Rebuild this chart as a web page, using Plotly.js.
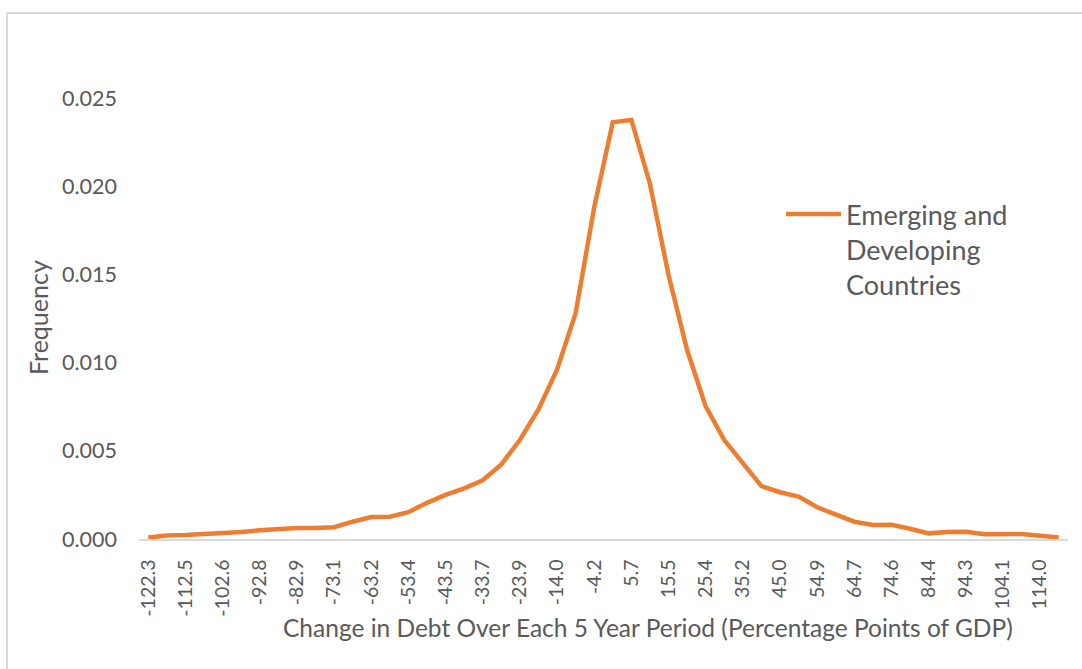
<!DOCTYPE html>
<html>
<head>
<meta charset="utf-8">
<script src="https://cdn.plot.ly/plotly-3.0.1.min.js"></script>
<style>
html,body{margin:0;padding:0;background:#fff;}
#chart{width:1082px;height:669px;}
</style>
</head>
<body>
<div id="chart"></div>
<script>
// Category bins: change in debt over each 5-year period (pp of GDP)
var categories = [
  "-122.3","-117.4","-112.5","-107.5","-102.6","-97.7","-92.8","-87.8","-82.9","-78.0",
  "-73.1","-68.2","-63.2","-58.3","-53.4","-48.5","-43.5","-38.6","-33.7","-28.8",
  "-23.9","-18.9","-14.0","-9.1","-4.2","0.8","5.7","10.6","15.5","20.4",
  "25.4","30.3","35.2","40.1","45.0","50.0","54.9","59.8","64.7","69.7",
  "74.6","79.5","84.4","89.4","94.3","99.2","104.1","109.1","114.0","118.9"
];
// Frequency for Emerging and Developing Countries
var frequency = [
  0.00008,0.00020,0.00022,0.00027,0.00033,0.00040,0.00049,0.00056,0.00062,0.00062,
  0.00067,0.00098,0.00125,0.00126,0.00152,0.00205,0.00250,0.00287,0.00333,0.00423,
  0.00561,0.00735,0.00960,0.01280,0.01880,0.02362,0.02376,0.02014,0.01497,0.01071,
  0.00752,0.00561,0.00429,0.00300,0.00265,0.00240,0.00180,0.00138,0.00098,0.00079,
  0.00081,0.00058,0.00032,0.00040,0.00041,0.00027,0.00027,0.00028,0.00019,0.00008
];
var tickLabels = categories.filter(function(c,i){return i%2===0;});
var seriesName = "Emerging and<br>Developing<br>Countries";

var FONT = "Lato, 'Open Sans', sans-serif";
var GREY = "#595959";

var trace = {
  type: "scatter",
  mode: "lines",
  x: categories,
  y: frequency,
  name: seriesName,
  line: {color: "#ED7D31", width: 4.5, shape: "linear"},
  hoverinfo: "x+y"
};

var L = 139, R = 14, T = 98, B = 130;
var W = 1082, H = 669;
var pw = W - L - R, ph = H - T - B;
function px(x){return (x - L)/pw;}
function py(y){return (H - B - y)/ph;}

var layout = {
  width: W, height: H,
  margin: {l: L, r: R, t: T, b: B, pad: 0},
  paper_bgcolor: "#ffffff",
  plot_bgcolor: "#ffffff",
  font: {family: FONT, color: GREY, size: 21},
  showlegend: true,
  legend: {
    x: px(781), y: py(190), xanchor: "left", yanchor: "top",
    valign: "top",
    font: {family: FONT, size: 27, color: GREY},
    bgcolor: "rgba(0,0,0,0)",
    itemwidth: 55,
    tracegroupgap: 0
  },
  xaxis: {
    type: "category",
    range: [-0.5, categories.length - 0.5],
    tickmode: "array",
    tickvals: tickLabels,
    ticktext: tickLabels,
    tickangle: -90,
    ticks: "",
    ticklabelstandoff: 11,
    showgrid: false,
    zeroline: false,
    showline: true,
    linecolor: "#D9D9D9",
    linewidth: 1.5,
    tickfont: {family: FONT, size: 19.5, color: GREY},
    fixedrange: true
  },
  yaxis: {
    range: [0, 0.025],
    tickmode: "array",
    tickvals: [0, 0.005, 0.010, 0.015, 0.020, 0.025],
    tickformat: ".3f",
    ticks: "",
    ticklabelstandoff: 21,
    showgrid: false,
    zeroline: false,
    showline: false,
    tickfont: {family: FONT, size: 21.5, color: GREY},
    fixedrange: true
  },
  annotations: [
    {
      text: "Change in Debt Over Each 5 Year Period (Percentage Points of GDP)",
      xref: "paper", yref: "paper",
      x: px(648), y: py(627), xanchor: "center", yanchor: "middle",
      showarrow: false,
      font: {family: FONT, size: 24.5, color: GREY}
    },
    {
      text: "Frequency",
      xref: "paper", yref: "paper",
      x: px(38), y: py(318), xanchor: "center", yanchor: "middle",
      textangle: -90,
      showarrow: false,
      font: {family: FONT, size: 25, color: GREY}
    }
  ],
  shapes: [
    {type: "line", xref: "paper", yref: "paper",
     x0: px(7), x1: px(7), y0: py(13), y1: py(669),
     line: {color: "#D9D9D9", width: 2}},
    {type: "line", xref: "paper", yref: "paper",
     x0: px(7), x1: px(1082), y0: py(13), y1: py(13),
     line: {color: "#D9D9D9", width: 2}}
  ]
};

Plotly.newPlot("chart", [trace], layout, {displayModeBar: false, staticPlot: false});
</script>
</body>
</html>
